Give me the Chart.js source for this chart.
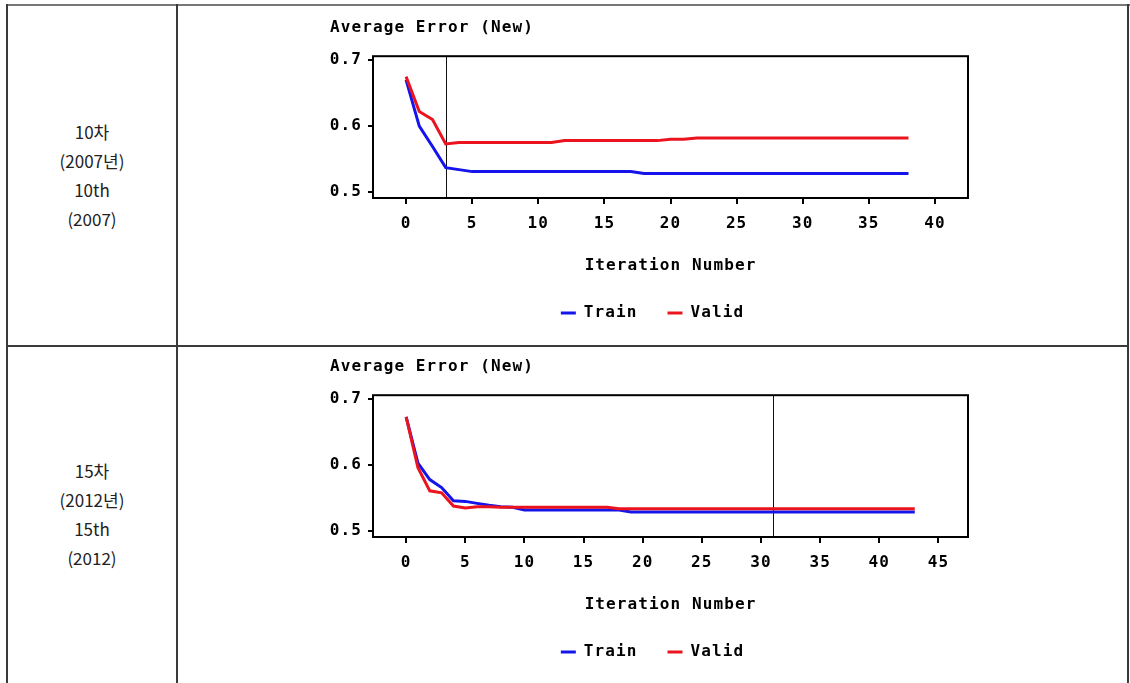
<!DOCTYPE html>
<html>
<head>
<meta charset="utf-8">
<script src="https://cdn.jsdelivr.net/npm/chart.js@4.4.1/dist/chart.umd.min.js"></script>
<style>
  body { margin: 0; background: #fff; width: 1130px; height: 683px; overflow: hidden; position: relative; }
  .rule { position: absolute; background: #3a3a3a; }
  .cap { position: absolute; left: 7px; width: 170px; text-align: center; font-family: "Noto Sans CJK KR", sans-serif; font-size: 17px; line-height: 29px; color: #222; }
  .plot { position: absolute; left: 325px; width: 650px; height: 321px; }
</style>
</head>
<body>
<div class="rule" style="left:6px;top:4px;width:1124px;height:2px;background:#777"></div>
<div class="rule" style="left:6px;top:4px;width:2px;height:679px"></div>
<div class="rule" style="left:176px;top:4px;width:2px;height:679px"></div>
<div class="rule" style="left:1127px;top:4px;width:2px;height:679px"></div>
<div class="rule" style="left:6px;top:345px;width:1123px;height:2px"></div>

<div class="cap" style="top:117px">10차<br>(2007년)<br>10th<br>(2007)</div>
<div class="cap" style="top:456px">15차<br>(2012년)<br>15th<br>(2012)</div>

<div class="plot" style="top:10px"><canvas id="chart10"></canvas></div>
<div class="plot" style="top:349px"><canvas id="chart15"></canvas></div>

<script>
// 10th round (2007): average error per iteration
const train10 = [
    0.670, 0.600, 0.569, 0.537, 0.534,
    0.531, 0.531, 0.531, 0.531, 0.531, 0.531, 0.531, 0.531, 0.531, 0.531, 0.531, 0.531, 0.531,
    0.528, 0.528, 0.528, 0.528, 0.528, 0.528, 0.528, 0.528, 0.528, 0.528, 0.528,
    0.528, 0.528, 0.528, 0.528, 0.528, 0.528, 0.528, 0.528, 0.528, 0.528
];
const valid10 = [
    0.675, 0.622, 0.610, 0.573,
    0.575, 0.575, 0.575, 0.575, 0.575, 0.575, 0.575, 0.575,
    0.578, 0.578, 0.578, 0.578, 0.578, 0.578, 0.578, 0.578,
    0.580, 0.580,
    0.582, 0.582, 0.582, 0.582, 0.582, 0.582, 0.582, 0.582, 0.582,
    0.582, 0.582, 0.582, 0.582, 0.582, 0.582, 0.582, 0.582
];
const best10 = 3;
const xTicks10 = [0, 5, 10, 15, 20, 25, 30, 35, 40];

// 15th round (2012)
const train15 = [
    0.673, 0.603, 0.578, 0.566, 0.546, 0.545, 0.542, 0.539, 0.537, 0.536,
    0.532, 0.532, 0.532, 0.532, 0.532, 0.532, 0.532, 0.532, 0.532,
    0.529, 0.529, 0.529, 0.529, 0.529, 0.529, 0.529, 0.529, 0.529, 0.529, 0.529, 0.529, 0.529,
    0.529, 0.529, 0.529, 0.529, 0.529, 0.529, 0.529, 0.529, 0.529, 0.529, 0.529, 0.529
];
const valid15 = [
    0.673, 0.596, 0.561, 0.558, 0.538, 0.535, 0.537, 0.537,
    0.536, 0.536, 0.536, 0.536, 0.536, 0.536, 0.536, 0.536, 0.536, 0.536,
    0.534, 0.534, 0.534, 0.534, 0.534, 0.534, 0.534, 0.534, 0.534, 0.534, 0.534, 0.534, 0.534,
    0.534, 0.534, 0.534, 0.534, 0.534, 0.534, 0.534, 0.534, 0.534, 0.534, 0.534, 0.534, 0.534
];
const best15 = 31;
const xTicks15 = [0, 5, 10, 15, 20, 25, 30, 35, 40, 45];

const yTicks = [0.5, 0.6, 0.7];

const sasFont = { family: 'DejaVu Sans Mono', size: 16, weight: 'bold' };
const blue = 'rgb(20,20,235)';
const red = 'rgb(235,20,30)';

// box round the plot + the vertical "selected iteration" line
const framePlugin = {
    id: 'frame',
    beforeLayout(chart) { chart.ctx.letterSpacing = '1.1px'; },
    beforeDraw(chart) { chart.ctx.letterSpacing = '1.1px'; },
    beforeDatasetsDraw(chart, args, opts) {
        const { ctx, chartArea, scales } = chart;
        const x = Math.round(scales.x.getPixelForValue(opts.best)) + 0.5;
        ctx.save();
        ctx.strokeStyle = '#111';
        ctx.lineWidth = 1;
        ctx.beginPath();
        ctx.moveTo(x, chartArea.top);
        ctx.lineTo(x, chartArea.bottom);
        ctx.stroke();
        ctx.restore();
    },
    afterDatasetsDraw(chart) {
        const { ctx, chartArea } = chart;
        ctx.save();
        ctx.strokeStyle = '#000';
        ctx.lineWidth = 2;
        ctx.strokeRect(chartArea.left, chartArea.top, chartArea.right - chartArea.left, chartArea.bottom - chartArea.top);
        ctx.restore();
    }
};

function drawErrorChart(id, train, valid, best, xTicks, xMin, xMax) {
    const ctx = document.getElementById(id).getContext('2d');
    return new Chart(ctx, {
        type: 'line',
        data: {
            datasets: [{
                label: 'Train',
                data: train.map((v, i) => ({ x: i, y: v })),
                borderColor: blue,
                backgroundColor: blue,
                borderWidth: 3,
                pointRadius: 0,
                order: 1
            },
            {
                label: 'Valid',
                data: valid.map((v, i) => ({ x: i, y: v })),
                borderColor: red,
                backgroundColor: red,
                borderWidth: 3,
                pointRadius: 0,
                order: 0
            }]
        },
        options: {
            responsive: true,
            maintainAspectRatio: false,
            animation: false,
            events: [],
            layout: { padding: { left: 5, right: 0, top: 0, bottom: 0 } },
            scales: {
                x: {
                    type: 'linear',
                    min: xMin,
                    max: xMax,
                    afterBuildTicks(scale) { scale.ticks = xTicks.map(v => ({ value: v })); },
                    ticks: { color: '#000', font: sasFont, padding: 10, callback: v => String(v) },
                    grid: { drawOnChartArea: false, tickLength: 6, color: '#000', lineWidth: 2 },
                    border: { display: false },
                    title: { display: true, text: 'Iteration Number', color: '#000', font: sasFont, padding: { top: 0, bottom: 0 } },
                    afterFit(scale) { scale.height = 77; }
                },
                y: {
                    type: 'linear',
                    min: 0.491,
                    max: 0.706,
                    afterBuildTicks(scale) { scale.ticks = yTicks.map(v => ({ value: v })); },
                    ticks: { color: '#000', font: sasFont, padding: 6, callback: v => v.toFixed(1) },
                    grid: { drawOnChartArea: false, tickLength: 5, color: '#000', lineWidth: 2 },
                    border: { display: false },
                    afterFit(scale) { scale.width = 43; }
                },
                yR: {
                    type: 'linear',
                    position: 'right',
                    grid: { display: false },
                    ticks: { display: false },
                    border: { display: false },
                    afterFit(scale) { scale.width = 7; }
                }
            },
            plugins: {
                title: {
                    display: true,
                    text: 'Average Error (New)',
                    align: 'start',
                    color: '#000',
                    font: sasFont,
                    padding: { top: 8, bottom: 19 }
                },
                legend: {
                    position: 'bottom',
                    labels: {
                        color: '#000',
                        font: sasFont,
                        boxWidth: 15,
                        boxHeight: 3,
                        padding: 30,
                        sort: (a, b) => a.datasetIndex - b.datasetIndex,
                        generateLabels: (chart) => Chart.defaults.plugins.legend.labels.generateLabels(chart)
                            .map(item => Object.assign(item, { lineWidth: 0 }))
                    }
                },
                tooltip: { enabled: false },
                frame: { best: best }
            }
        },
        plugins: [framePlugin]
    });
}

drawErrorChart('chart10', train10, valid10, best10, xTicks10, -2.5, 42.5);
drawErrorChart('chart15', train15, valid15, best15, xTicks15, -2.8, 47.5);
</script>
</body>
</html>
